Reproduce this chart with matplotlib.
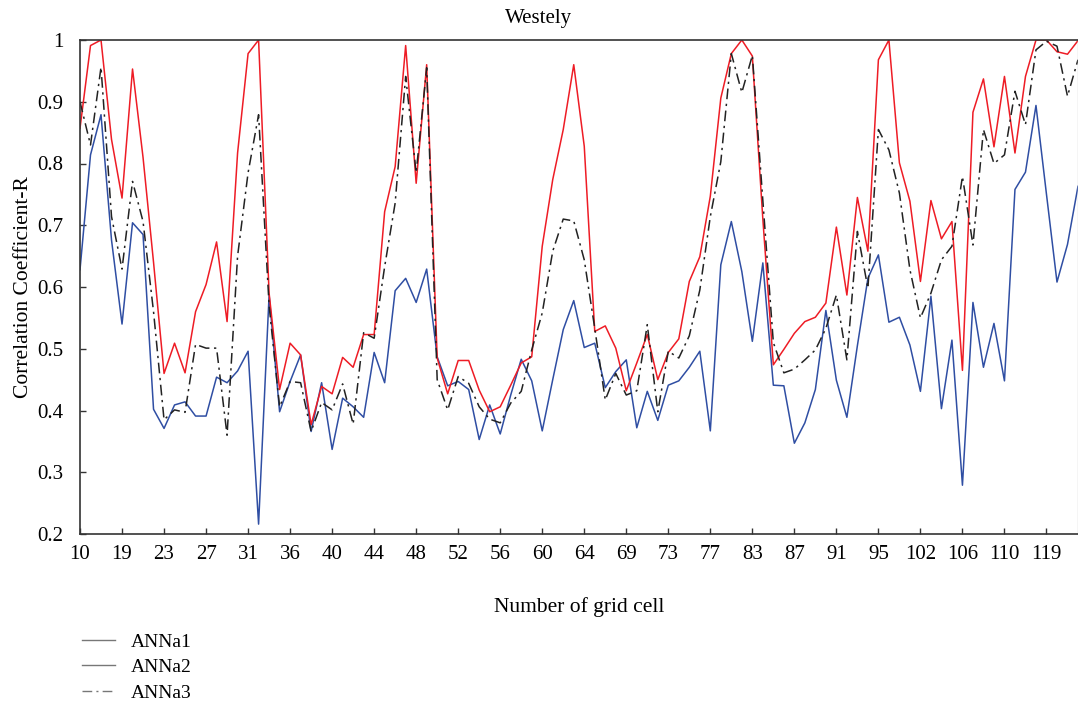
import matplotlib
matplotlib.use("Agg")
import matplotlib.pyplot as plt
import numpy as np

plt.rcParams['font.family'] = ['Liberation Serif', 'DejaVu Serif']

tick_labels = ["10", "19", "23", "27", "31", "36", "40", "44", "48", "52", "56", "60",
               "64", "69", "73", "77", "83", "87", "91", "95", "102", "106", "110", "119"]

anna1 = [0.628, 0.814, 0.879, 0.676, 0.540, 0.704, 0.685, 0.402, 0.371, 0.409,
         0.414, 0.391, 0.391, 0.454, 0.445, 0.464, 0.496, 0.216, 0.587, 0.398,
         0.447, 0.490, 0.366, 0.445, 0.337, 0.420, 0.406, 0.389, 0.494, 0.445,
         0.594, 0.614, 0.575, 0.629, 0.487, 0.440, 0.447, 0.434, 0.353, 0.409,
         0.362, 0.425, 0.483, 0.448, 0.367, 0.450, 0.531, 0.578, 0.502, 0.509,
         0.437, 0.463, 0.482, 0.372, 0.431, 0.384, 0.441, 0.448, 0.470, 0.496,
         0.367, 0.636, 0.706, 0.625, 0.512, 0.639, 0.441, 0.440, 0.347, 0.380,
         0.434, 0.562, 0.449, 0.389, 0.505, 0.614, 0.652, 0.543, 0.551, 0.506,
         0.431, 0.585, 0.403, 0.514, 0.279, 0.575, 0.470, 0.541, 0.448, 0.758,
         0.786, 0.894, 0.750, 0.608, 0.669, 0.763]

anna2 = [0.857, 0.991, 1.000, 0.839, 0.744, 0.953, 0.810, 0.640, 0.460, 0.509,
         0.461, 0.560, 0.604, 0.673, 0.544, 0.817, 0.978, 1.000, 0.590, 0.434,
         0.509, 0.490, 0.377, 0.439, 0.427, 0.486, 0.470, 0.523, 0.523, 0.722,
         0.795, 0.991, 0.768, 0.960, 0.485, 0.427, 0.481, 0.481, 0.433, 0.398,
         0.406, 0.441, 0.477, 0.487, 0.666, 0.774, 0.855, 0.960, 0.828, 0.528,
         0.537, 0.501, 0.432, 0.477, 0.523, 0.450, 0.494, 0.516, 0.609, 0.649,
         0.747, 0.906, 0.978, 1.000, 0.974, 0.710, 0.474, 0.499, 0.525, 0.544,
         0.551, 0.574, 0.697, 0.587, 0.745, 0.658, 0.968, 1.000, 0.801, 0.739,
         0.609, 0.740, 0.678, 0.706, 0.465, 0.883, 0.937, 0.827, 0.941, 0.817,
         0.941, 1.000, 1.000, 0.981, 0.977, 0.999]

anna3 = [0.900, 0.830, 0.956, 0.714, 0.629, 0.771, 0.706, 0.560, 0.385, 0.401,
         0.397, 0.507, 0.501, 0.501, 0.360, 0.650, 0.785, 0.879, 0.570, 0.406,
         0.447, 0.445, 0.366, 0.413, 0.401, 0.443, 0.378, 0.526, 0.517, 0.633,
         0.736, 0.941, 0.785, 0.955, 0.450, 0.401, 0.455, 0.444, 0.406, 0.386,
         0.380, 0.412, 0.431, 0.498, 0.558, 0.658, 0.710, 0.707, 0.644, 0.533,
         0.417, 0.460, 0.425, 0.432, 0.539, 0.398, 0.496, 0.485, 0.521, 0.595,
         0.714, 0.803, 0.978, 0.915, 0.975, 0.740, 0.510, 0.461, 0.467, 0.482,
         0.498, 0.533, 0.587, 0.482, 0.690, 0.598, 0.855, 0.822, 0.752, 0.628,
         0.550, 0.590, 0.644, 0.666, 0.779, 0.668, 0.855, 0.800, 0.814, 0.917,
         0.863, 0.984, 0.998, 0.990, 0.909, 0.968]

series_names = ["ANNa1", "ANNa2", "ANNa3"]

x = np.arange(len(anna1))

fig = plt.figure(figsize=(10.78, 7.09), dpi=100)
ax = fig.add_axes([80 / 1078, 1 - 534 / 709, 998 / 1078, 494 / 709])

l1, = ax.plot(x, anna1, color="#2f4ea3", lw=1.1, label=series_names[0])
l2, = ax.plot(x, anna2, color="#ee1c25", lw=1.1, label=series_names[1])
l3, = ax.plot(x, anna3, color="#222222", lw=1.1, linestyle=(0, (7, 3, 1.5, 3)),
              label=series_names[2])

ax.set_xlim(0, len(anna1) - 1)
ax.set_ylim(0.2, 1.0)
ax.set_xticks(x[::4][:len(tick_labels)])
ax.set_xticklabels(tick_labels)
yt = np.round(np.arange(0.2, 1.01, 0.1), 1)
ax.set_yticks(yt)
ax.set_yticklabels([("1" if v == 1.0 else f"{v:.1f}") for v in yt])
ax.tick_params(axis='both', direction='in', length=4, width=1, labelsize=15,
               color="#333333")
ax.tick_params(axis='x', pad=8)
ax.tick_params(axis='y', pad=12)

for s in ["left", "bottom", "top"]:
    ax.spines[s].set_color("#333333")
    ax.spines[s].set_linewidth(1.2)
ax.spines["right"].set_color("#cccccc")
ax.spines["right"].set_linewidth(1.0)

fig.text(0.5, 1 - 18 / 709, "Westely", fontsize=15, ha="center", va="center")
ax.set_xlabel("Number of grid cell", fontsize=15.5, labelpad=24)
ax.set_ylabel("Correlation Coefficient-R", fontsize=15.5, labelpad=3)

leg = fig.legend(handles=[l1, l2, l3], loc="upper left",
                 bbox_to_anchor=(0.069, 0.118), frameon=False, fontsize=14,
                 handlelength=1.7, labelspacing=0.4, handletextpad=0.8,
                 borderaxespad=0)
for ln in leg.get_lines():
    ln.set_color("#777777")
    ln.set_linewidth(1.0)

fig.savefig("out.png", dpi=100)
